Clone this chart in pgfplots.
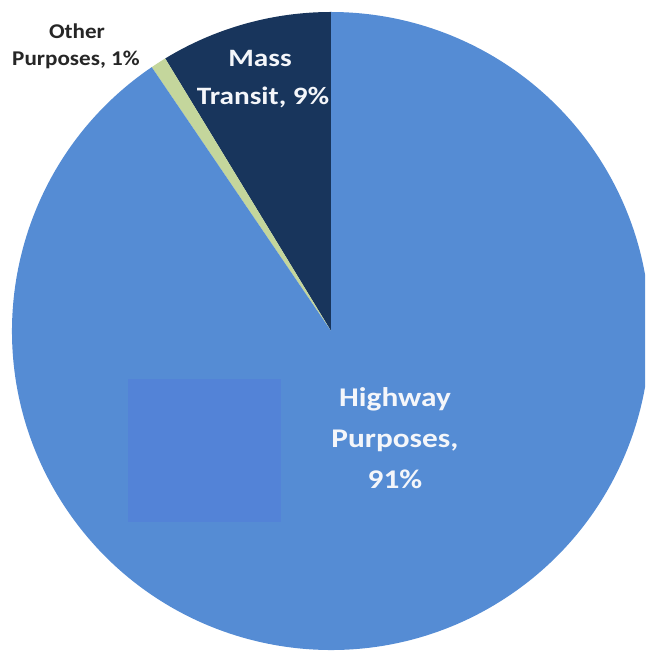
\documentclass[border=0pt]{standalone}
\usepackage{pgfplots}
\usepackage{pgfplotstable}
\pgfplotsset{compat=1.18}
\usepackage{fontspec}
\setmainfont{Carlito}
\definecolor{hwy}{RGB}{85,140,212}
\definecolor{mass}{RGB}{24,53,92}
\definecolor{other}{RGB}{196,214,156}
\definecolor{patch}{RGB}{83,131,215}
\definecolor{lbl}{RGB}{38,38,38}
\definecolor{wlbl}{RGB}{244,246,250}
\pgfplotstableread{
value color
8.7 mass
0.8 other
90.5 hwy
}\piedata
\begin{document}
\begin{tikzpicture}
\begin{axis}[
  hide axis, scale only axis,
  width=645pt, height=652pt,
  xmin=0, xmax=645, ymin=0, ymax=652,
  clip=true,
]
\def\start{90}
\pgfplotsforeachungrouped \i in {0,1,2}{%
  \pgfplotstablegetelem{\i}{value}\of\piedata \let\v\pgfplotsretval
  \pgfplotstablegetelem{\i}{color}\of\piedata \let\c\pgfplotsretval
  \pgfmathsetmacro\endang{\start+3.6*\v}%
  \edef\cmd{\noexpand\fill[\c] ([shift={(\start:319pt)}]axis cs:331,321) arc[start angle=\start, end angle=\endang, radius=319pt] -- (axis cs:331,321) -- cycle;}%
  \cmd
  \global\let\start\endang
}
\fill[patch] (axis cs:128,130) rectangle (axis cs:281,273);
\node[anchor=base, text=lbl, font=\bfseries\fontsize{21}{24}\selectfont, xscale=1.1] at (axis cs:77,613) {Other};
\node[anchor=base, text=lbl, font=\bfseries\fontsize{21}{24}\selectfont, xscale=1.1] at (axis cs:76,586) {Purposes, 1\%};
\node[anchor=base, text=wlbl, font=\bfseries\fontsize{25}{28}\selectfont, xscale=1.17] at (axis cs:260,585) {Mass};
\node[anchor=base, text=wlbl, font=\bfseries\fontsize{25}{28}\selectfont, xscale=1.17] at (axis cs:263,547) {Transit,~9\%};
\node[anchor=base, text=wlbl, font=\bfseries\fontsize{27}{30}\selectfont, xscale=1.16] at (axis cs:395,245) {Highway};
\node[anchor=base, text=wlbl, font=\bfseries\fontsize{27}{30}\selectfont, xscale=1.16] at (axis cs:395,204) {Purposes,};
\node[anchor=base, text=wlbl, font=\bfseries\fontsize{27}{30}\selectfont, xscale=1.16] at (axis cs:395,163) {91\%};
\end{axis}
\pgfresetboundingbox
\path (0,0) rectangle (645pt,652pt);
\end{tikzpicture}
\end{document}
